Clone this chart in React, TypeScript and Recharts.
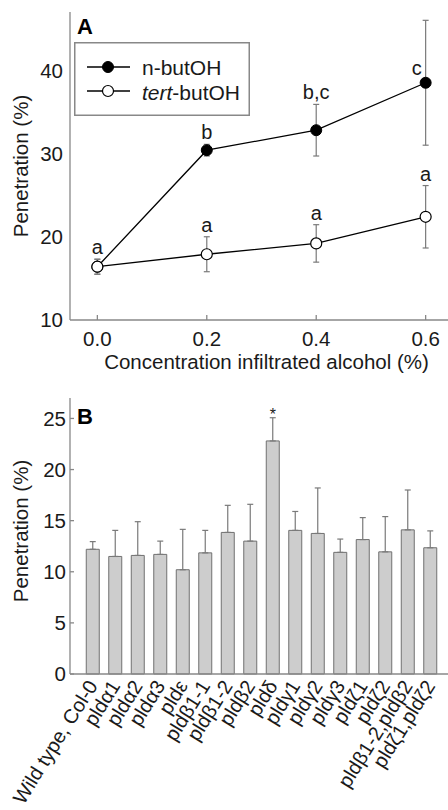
import React from "react";
import {
  LineChart,
  Line,
  XAxis,
  YAxis,
  ErrorBar,
  LabelList,
  Legend,
  BarChart,
  Bar,
  Label,
} from "recharts";

const FONT = '"Liberation Sans", Arial, Helvetica, sans-serif';
const INK = "#1a1a1a";
const AXIS = "#888888";
const WHISKER = "#7a7a7a";

// panel A: penetration vs alcohol concentration
const concentrations = [0, 0.2, 0.4, 0.6];
const nButanol = [16.4, 30.4, 32.8, 38.5];
const nButanolErr = [0.9, 0.7, 3.1, 7.5];
const nButanolLetters = ["", "b", "b,c", "c"];
const tertButanol = [16.4, 17.9, 19.2, 22.4];
const tertButanolErr = [0.9, 2.1, 2.25, 3.75];
const tertButanolLetters = ["a", "a", "a", "a"];
const concTicks = [0, 0.2, 0.4, 0.6];
const penetrationTicksA = [10, 20, 30, 40];

// panel B: pld mutants
const genotypes = [
  "Wild type, Col-0",
  "pldα1",
  "pldα2",
  "pldα3",
  "pldε",
  "pldβ1-1",
  "pldβ1-2",
  "pldβ2",
  "pldδ",
  "pldγ1",
  "pldγ2",
  "pldγ3",
  "pldζ1",
  "pldζ2",
  "pldβ1-2,pldβ2",
  "pldζ1,pldζ2",
];
const genotypePenetration = [
  12.2, 11.5, 11.6, 11.7, 10.2, 11.85, 13.85, 13.0, 22.8, 14.05, 13.75, 11.9,
  13.15, 11.95, 14.1, 12.35,
];
const genotypeErr = [
  0.75, 2.55, 3.3, 1.3, 3.95, 2.2, 2.65, 3.6, 2.27, 1.85, 4.45, 1.3, 2.15, 3.45,
  3.9, 1.65,
];
const significance = ["", "", "", "", "", "", "", "", "*", "", "", "", "", "", "", ""];
const penetrationTicksB = [0, 5, 10, 15, 20, 25];

const Y_TOP_A = 47;

// letters sit above the whisker, or beside the dot when the whisker runs to the frame
const lineRows = concentrations.map((c, i) => {
  const nTop = nButanol[i] + nButanolErr[i];
  const nBeside = nTop > Y_TOP_A - 3;
  return {
    conc: c,
    n: nButanol[i],
    nErr: nButanolErr[i],
    nLabelAt: nBeside ? nButanol[i] : nTop,
    nBeside,
    tert: tertButanol[i],
    tertErr: tertButanolErr[i],
    tertLabelAt: tertButanol[i] + tertButanolErr[i],
    tertBeside: false,
  };
});

const barRows = genotypes.map((g, i) => ({
  name: g,
  value: genotypePenetration[i],
  err: [0, genotypeErr[i]],
}));

const letterContent = (letters: string[], beside: boolean[]) => (props: any) => {
  const { x, y, index } = props;
  const t = letters[index];
  if (!t) return null;
  const side = beside[index];
  return (
    <text
      x={side ? x - 9 : x}
      y={side ? y - 8 : y - 5}
      textAnchor="middle"
      fontSize={20}
      fontFamily={FONT}
      fill={INK}
    >
      {t}
    </text>
  );
};

const YTitle = (props: any) => {
  const vb = props.viewBox;
  const cy = vb.y + vb.height / 2 + (props.shift || 0);
  return (
    <text
      x={28}
      y={cy}
      transform={`rotate(-90, 28, ${cy})`}
      textAnchor="middle"
      fontSize={20.5}
      fontFamily={FONT}
      fill={INK}
    >
      Penetration (%)
    </text>
  );
};

const XTitleA = (props: any) => {
  const vb = props.viewBox;
  return (
    <text
      x={vb.x + vb.width / 2 + 5}
      y={369}
      textAnchor="middle"
      fontSize={20.5}
      fontFamily={FONT}
      fill={INK}
    >
      Concentration infiltrated alcohol (%)
    </text>
  );
};

const LegendBox = () => (
  <svg width={176} height={74} style={{ display: "block" }}>
    <rect x={0.75} y={0.75} width={174.5} height={72.5} fill="#fff" stroke={AXIS} strokeWidth={1.5} />
    <line x1={13} y1={25} x2={56} y2={25} stroke="#000" strokeWidth={1.3} />
    <circle cx={34} cy={25} r={5.5} fill="#000" stroke="#000" />
    <text x={68} y={33} fontSize={21} fontFamily={FONT} fill={INK}>
      n-butOH
    </text>
    <line x1={13} y1={49} x2={56} y2={49} stroke="#000" strokeWidth={1.3} />
    <circle cx={34} cy={49} r={5.5} fill="#fff" stroke="#000" strokeWidth={1.2} />
    <text x={68} y={58} fontSize={21} fontFamily={FONT} fill={INK}>
      <tspan fontStyle="italic">tert</tspan>-butOH
    </text>
  </svg>
);

const GenotypeTick = (props: any) => {
  const { x, y, payload } = props;
  return (
    <g transform={`translate(${x},${y})`}>
      <text
        transform="rotate(-58)"
        textAnchor="end"
        dy="0.35em"
        fontSize={20}
        fontFamily={FONT}
        fill={INK}
      >
        {payload.value}
      </text>
    </g>
  );
};

const NoLabel = () => <g />;

const tickStyle = { fontSize: 20.5, fontFamily: FONT, fill: INK };

const panelLetter = (top: number, letter: string) => (
  <div
    style={{
      position: "absolute",
      left: 77,
      top,
      fontFamily: FONT,
      fontWeight: "bold",
      fontSize: 22,
      lineHeight: "22px",
      color: "#000",
    }}
  >
    {letter}
  </div>
);

export default function App() {
  return (
    <div
      style={{
        position: "absolute",
        left: 0,
        top: 0,
        width: 448,
        height: 810,
        overflow: "hidden",
        background: "#fff",
      }}
    >
      <div style={{ position: "absolute", left: 0, top: 0 }}>
        <LineChart
          width={480}
          height={380}
          data={lineRows}
          margin={{ top: 12, right: 27, bottom: 10, left: 0 }}
        >
          <XAxis
            dataKey="conc"
            type="number"
            domain={[-0.05, 0.65]}
            ticks={concTicks}
            tickFormatter={(v: number) => v.toFixed(1)}
            height={50}
            tickSize={-5}
            tickMargin={16}
            tick={tickStyle}
            stroke={AXIS}
            strokeWidth={1.3}
          >
            <Label content={<XTitleA />} />
          </XAxis>
          <XAxis
            xAxisId="top"
            orientation="top"
            dataKey="conc"
            type="number"
            domain={[-0.05, 0.65]}
            ticks={concTicks}
            height={0}
            tickSize={-5}
            tick={NoLabel}
            stroke={AXIS}
            strokeWidth={1.3}
          />
          <YAxis
            type="number"
            domain={[10, Y_TOP_A]}
            ticks={penetrationTicksA}
            width={70}
            tickLine={false}
            tickSize={0}
            tickMargin={7}
            tick={tickStyle}
            stroke={AXIS}
            strokeWidth={1.3}
          >
            <Label content={<YTitle />} />
          </YAxis>
          <Legend
            layout="vertical"
            align="center"
            verticalAlign="middle"
            wrapperStyle={{ left: 74, top: 42, width: 176, height: 74 }}
            content={() => <LegendBox />}
          />
          <Line
            dataKey="n"
            stroke="#000"
            strokeWidth={1.3}
            dot={{ r: 5.5, fill: "#000", stroke: "#000", strokeWidth: 1 }}
            activeDot={false}
            isAnimationActive={false}
          >
            <ErrorBar dataKey="nErr" direction="y" width={3} stroke={WHISKER} strokeWidth={1.2} />
          </Line>
          <Line
            dataKey="tert"
            stroke="#000"
            strokeWidth={1.3}
            dot={{ r: 5.5, fill: "#fff", stroke: "#000", strokeWidth: 1.2 }}
            activeDot={false}
            isAnimationActive={false}
          >
            <ErrorBar dataKey="tertErr" direction="y" width={3} stroke={WHISKER} strokeWidth={1.2} />
          </Line>
          <Line
            dataKey="nLabelAt"
            stroke="none"
            dot={false}
            activeDot={false}
            isAnimationActive={false}
          >
            <LabelList
              dataKey="nLabelAt"
              content={letterContent(nButanolLetters, lineRows.map((r) => r.nBeside))}
            />
          </Line>
          <Line
            dataKey="tertLabelAt"
            stroke="none"
            dot={false}
            activeDot={false}
            isAnimationActive={false}
          >
            <LabelList
              dataKey="tertLabelAt"
              content={letterContent(tertButanolLetters, lineRows.map((r) => r.tertBeside))}
            />
          </Line>
        </LineChart>
      </div>
      {panelLetter(16, "A")}

      <div style={{ position: "absolute", left: 0, top: 388 }}>
        <BarChart
          width={480}
          height={422}
          data={barRows}
          margin={{ top: 10, right: 27.5, bottom: 0, left: 0 }}
        >
          <XAxis
            dataKey="name"
            type="category"
            interval={0}
            padding={{ left: 11.25, right: 11.25 }}
            height={136}
            tickLine={false}
            tickSize={0}
            tickMargin={8}
            tick={<GenotypeTick />}
            stroke={AXIS}
            strokeWidth={1.3}
          />
          <XAxis
            xAxisId="top"
            orientation="top"
            dataKey="name"
            type="category"
            height={0}
            tickLine={false}
            tick={false}
            stroke={AXIS}
            strokeWidth={1.3}
          />
          <YAxis
            type="number"
            domain={[0, 27]}
            ticks={penetrationTicksB}
            width={70}
            tickSize={-4}
            tickMargin={8}
            tick={tickStyle}
            stroke={AXIS}
            strokeWidth={1.3}
          >
            <Label content={<YTitle shift={-5} />} />
          </YAxis>
          <Bar
            dataKey="value"
            barSize={13}
            fill="#cdcdcd"
            stroke="#707070"
            strokeWidth={1}
            isAnimationActive={false}
          >
            <ErrorBar dataKey="err" direction="y" width={3} stroke={WHISKER} strokeWidth={1.2} />
            <LabelList
              dataKey="value"
              content={(props: any) => {
                const { x, y, width, height, index } = props;
                const s = significance[index];
                if (!s) return null;
                const errPx = (genotypeErr[index] * height) / genotypePenetration[index];
                return (
                  <text
                    x={x + width / 2}
                    y={y - errPx + 2}
                    textAnchor="middle"
                    fontSize={16}
                    fontFamily={FONT}
                    fill={INK}
                  >
                    {s}
                  </text>
                );
              }}
            />
          </Bar>
        </BarChart>
      </div>
      {panelLetter(406, "B")}
    </div>
  );
}
